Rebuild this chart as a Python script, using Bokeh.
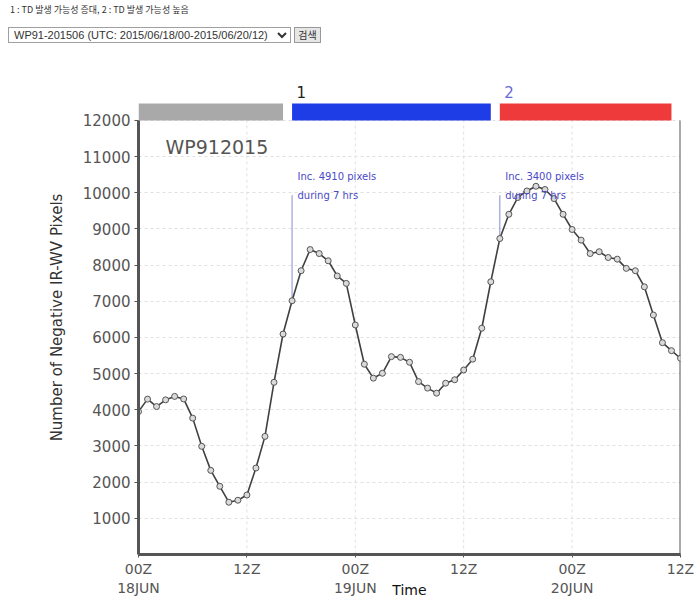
from bokeh.plotting import figure
from bokeh.models import Range1d, FixedTicker, Label, Div, LinearAxis
from bokeh.layouts import column
from bokeh.embed import file_html
from bokeh.resources import INLINE

# ---------------- data ----------------
hours = list(range(61))  # hours after 2015-06-18 00Z
pixels = [3950, 4295, 4090, 4275, 4370, 4300, 3770, 2990, 2325, 1885, 1445, 1500, 1645, 2390, 3265, 4760,
          6095, 7015, 7845, 8430, 8320, 8120, 7700, 7495, 6345, 5260, 4875, 5010, 5470, 5450, 5315, 4780,
          4600, 4460, 4735, 4830, 5100, 5400, 6255, 7540, 8735, 9405, 9870, 10050, 10180, 10090, 9840,
          9405, 8985, 8690, 8320, 8370, 8210, 8165, 7910, 7845, 7400, 6620, 5855, 5635, 5425]
x_ticks = [0, 12, 24, 36, 48, 60]
x_tick_labels = ["00Z", "12Z", "00Z", "12Z", "00Z", "12Z"]
date_ticks = [0, 24, 48]
date_labels = ["18JUN", "19JUN", "20JUN"]
y_ticks = [1000, 2000, 3000, 4000, 5000, 6000, 7000, 8000, 9000, 10000, 11000, 12000]
stage_start = [0, 17, 40]
stage_end = [16, 39, 59]
stage_names = ["", "1", "2"]
ann_hours = [17, 40]
ann_line1 = ["Inc. 4910 pixels", "Inc. 3400 pixels"]
ann_line2 = ["during 7 hrs", "during 7 hrs"]
storm_name = "WP912015"
header_text = "1 : TD 발생 가능성 증대, 2 : TD 발생 가능성 높음"
select_text = "WP91-201506 (UTC: 2015/06/18/00-2015/06/20/12)"
button_text = "검색"

# ---------------- styles ----------------
stage_colors = ["#a9a9a9", "#1e3de6", "#ee3a3a"]
stage_label_colors = ["#000000", "#222222", "#6a6ad8"]
ann_color = "#4a4ac8"

W, H = 695, 600
D = 50  # header div height
FL, FR, FT, FB = 138, 680, 80, 555   # page-pixel frame edges
XMIN, XMAX = 0, 60
Y12 = 120  # page y of 12000
per_px = 12000 / (FB - Y12)
YTOP = (FB - FT) * per_px


def px2x(px):
    return XMIN + (px - FL) / (FR - FL) * (XMAX - XMIN)


def py2y(py):
    return (FB - py) * per_px


header = Div(
    text=(f'<div style="font-family:\'Noto Sans CJK KR\';font-size:9px;color:#333;'
          f'margin:4px 0 0 10px;white-space:nowrap;line-height:12px">{header_text}</div>'
          f'<div style="margin:11px 0 0 8px;white-space:nowrap;line-height:16px">'
          f'<select style="font-family:\'Liberation Sans\';font-size:11px;height:16px;width:283px;color:#333;'
          f'border:1px solid #a0a0a0;background:white;padding:0 1px;vertical-align:top">'
          f'<option>{select_text}</option></select> '
          f'<button style="font-family:\'Noto Sans CJK KR\';font-size:10px;height:16px;padding:0 3px;'
          f'color:#333;border:1px solid #999;background:#e6e6e6;vertical-align:top;line-height:12px">'
          f'{button_text}</button></div>'),
    width=W, height=D, margin=0)

p = figure(width=W, height=H - D, output_backend="svg", toolbar_location=None,
           x_range=Range1d(XMIN, XMAX), y_range=Range1d(0, YTOP),
           min_border_left=FL, min_border_right=W - FR, min_border_top=FT - D,
           min_border_bottom=H - FB, margin=0)
p.outline_line_color = None
p.background_fill_color = "white"

# grid
p.xgrid.grid_line_color = None
p.ygrid.ticker = FixedTicker(ticks=y_ticks)
p.ygrid.grid_line_color = "#e0e0e0"
p.ygrid.grid_line_dash = "3 3"
p.segment(x0=x_ticks[1:-1], y0=0, x1=x_ticks[1:-1], y1=12000, line_color="#e0e0e0",
          line_dash="3 3", line_width=1)

# x axis: line + ticks + hour labels
xa = p.xaxis[0]
xa.ticker = FixedTicker(ticks=x_ticks)
xa.major_label_overrides = {t: l for t, l in zip(x_ticks, x_tick_labels)}
xa.axis_line_color = "#555555"
xa.axis_line_width = 3
xa.major_tick_line_color = "#555555"
xa.major_tick_out = 3
xa.major_tick_in = 0
xa.minor_tick_line_color = None
xa.major_label_text_font = "DejaVu Sans"
xa.major_label_text_font_size = "14px"
xa.major_label_text_color = "#555555"
xa.major_label_standoff = 3

# second row: dates + "Time"
xd = LinearAxis(ticker=FixedTicker(ticks=date_ticks),
                major_label_overrides={t: l for t, l in zip(date_ticks, date_labels)})
xd.axis_line_color = None
xd.major_tick_line_color = None
xd.minor_tick_line_color = None
xd.major_tick_out = 0
xd.major_tick_in = 0
xd.major_label_standoff = 0
xd.major_label_text_font = "DejaVu Sans"
xd.major_label_text_font_size = "14px"
xd.major_label_text_color = "#555555"
xd.axis_label = "Time"
xd.axis_label_text_font = "DejaVu Sans"
xd.axis_label_text_font_size = "14px"
xd.axis_label_text_font_style = "normal"
xd.axis_label_text_color = "#111111"
xd.axis_label_standoff = -17
p.add_layout(xd, "below")

ya = p.yaxis[0]
ya.ticker = FixedTicker(ticks=y_ticks)
ya.bounds = (0, 12000)
ya.axis_line_color = "#555555"
ya.axis_line_width = 3
ya.major_tick_line_color = "#555555"
ya.major_tick_out = 4
ya.major_tick_in = 0
ya.minor_tick_line_color = None
ya.major_label_text_font = "DejaVu Sans"
ya.major_label_text_font_size = "15px"
ya.major_label_text_color = "#555555"
ya.major_label_standoff = 4
ya.axis_label = "Number of Negative IR-WV Pixels"
ya.axis_label_text_font = "DejaVu Sans"
ya.axis_label_text_font_size = "15px"
ya.axis_label_text_font_style = "normal"
ya.axis_label_text_color = "#333333"
ya.axis_label_standoff = 14

# right frame border
p.segment(x0=[XMAX], y0=[0], x1=[XMAX], y1=[12000], line_color="#555555", line_width=2)

# stage bars
p.quad(left=stage_start, right=stage_end, bottom=12000, top=py2y(103), fill_color=stage_colors, line_color=None)
for s, name, c in zip(stage_start, stage_names, stage_label_colors):
    if name:
        p.add_layout(Label(x=s + 0.5, y=py2y(92), text=name, text_font="DejaVu Sans", text_font_size="15px",
                           text_color=c, text_baseline="middle", text_align="left"))

# annotation lines
p.segment(x0=ann_hours, y0=[pixels[h] for h in ann_hours], x1=ann_hours, y1=py2y(195),
          line_color="#8a8ad8", line_width=1)
for h, t1, t2 in zip(ann_hours, ann_line1, ann_line2):
    p.add_layout(Label(x=h + 0.6, y=py2y(176), text=t1, text_font="DejaVu Sans", text_font_size="10px",
                       text_color=ann_color, text_baseline="middle"))
    p.add_layout(Label(x=h + 0.6, y=py2y(195), text=t2, text_font="DejaVu Sans", text_font_size="10px",
                       text_color=ann_color, text_baseline="middle"))

# data line
p.line(hours, pixels, line_color="#404040", line_width=1.6)
p.scatter(hours, pixels, size=6, marker="circle", line_color="#555555", fill_color="#dadada", line_width=1)

# storm name
p.add_layout(Label(x=px2x(165), y=py2y(147), text=storm_name, text_font="DejaVu Sans", text_font_size="19px",
                   text_color="#555555", text_baseline="middle"))

layout = column(header, p, spacing=0, margin=0)
open("out.html", "w").write(file_html(layout, INLINE))
